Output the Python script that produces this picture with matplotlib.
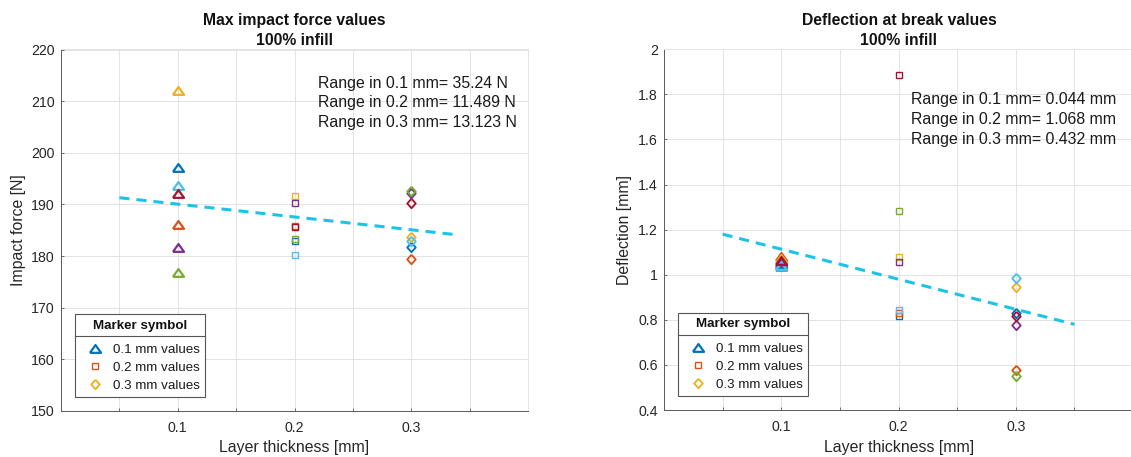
import matplotlib
matplotlib.use('Agg')
import matplotlib.pyplot as plt
from matplotlib.lines import Line2D
from matplotlib.markers import MarkerStyle
from matplotlib.ticker import FixedLocator, FixedFormatter

plt.rcParams['font.family'] = ['Liberation Sans', 'DejaVu Sans']

# ---------------- data ----------------
layer = [0.1, 0.2, 0.3]
sample_colors = ['#0072BD', '#D95319', '#EDB120', '#7E2F8E', '#77AC30', '#4DBEEE', '#A2142F']

force_01 = [197.0, 186.0, 211.9, 181.5, 176.66, 193.5, 192.0]
force_02 = [183.0, 185.8, 191.7, 190.3, 183.3, 180.21, 185.6]
force_03 = [181.8, 179.5, 183.7, 192.2, 192.62, 182.9, 190.2]
force_trend_x = [0.05, 0.34]
force_trend_y = [191.3, 184.1]

defl_01 = [1.045, 1.078, 1.070, 1.050, 1.034, 1.040, 1.062]
defl_02 = [0.819, 0.830, 1.077, 1.057, 1.281, 0.843, 1.887]
defl_03 = [0.832, 0.578, 0.945, 0.776, 0.552, 0.984, 0.815]
defl_trend_x = [0.05, 0.35]
defl_trend_y = [1.18, 0.78]

xtick_values = [0.05, 0.1, 0.15, 0.2, 0.25, 0.3, 0.35]
xtick_labels = ['', '0.1', '', '0.2', '', '0.3', '']
force_yticks = [150, 160, 170, 180, 190, 200, 210, 220]
defl_yticks = [0.4, 0.6, 0.8, 1.0, 1.2, 1.4, 1.6, 1.8, 2.0]

force_titles = ['Max impact force values', '100% infill']
defl_titles = ['Deflection at break values', '100% infill']
force_notes = ['Range in 0.1 mm= 35.24 N', 'Range in 0.2 mm= 11.489 N', 'Range in 0.3 mm= 13.123 N']
defl_notes = ['Range in 0.1 mm= 0.044 mm', 'Range in 0.2 mm= 1.068 mm', 'Range in 0.3 mm= 0.432 mm']
legend_title = 'Marker symbol'
legend_labels = ['0.1 mm values', '0.2 mm values', '0.3 mm values']
legend_colors = ['#0072BD', '#D95319', '#EDB120']

# ---------------- style ----------------
W, H = 1131, 457
DPI = 100
fig = plt.figure(figsize=(W / DPI, H / DPI), dpi=DPI)
fig.patch.set_facecolor('white')

def fx(px):
    return px / W

def fy(py):
    return 1 - py / H

TRI = MarkerStyle([(-1, -0.6), (1, -0.6), (0, 0.8), (-1, -0.6)])
DIA = MarkerStyle([(0, 1), (0.9, 0), (0, -1), (-0.9, 0), (0, 1)])
mk = {
    0: dict(marker=TRI, ms=8.0, mew=1.6),
    1: dict(marker='s', ms=4.5, mew=1.0),
    2: dict(marker=DIA, ms=6.8, mew=1.35),
}

AXC = '#262626'
GRIDC = '#e3e3e3'
TREND = '#1cc3e8'
LEG_FS = 9.6


def style_axes(ax, ylim, yticks, yfmt):
    ax.set_xlim(0, 0.4)
    ax.set_ylim(*ylim)
    ax.xaxis.set_major_locator(FixedLocator(xtick_values))
    ax.xaxis.set_major_formatter(FixedFormatter(xtick_labels))
    ax.yaxis.set_major_locator(FixedLocator(yticks))
    ax.set_yticklabels([yfmt(v) for v in yticks])
    ax.grid(True, color=GRIDC, lw=0.7)
    ax.set_axisbelow(True)
    for s in ['top', 'right']:
        ax.spines[s].set_color(GRIDC)
        ax.spines[s].set_linewidth(0.7)
    for s in ['left', 'bottom']:
        ax.spines[s].set_color('#5a5a5a')
        ax.spines[s].set_linewidth(0.7)
    ax.tick_params(axis='both', direction='in', length=2.4, width=0.6,
                   color='#5a5a5a', labelcolor=AXC, labelsize=10.2)
    ax.tick_params(axis='x', pad=7)
    ax.tick_params(axis='y', pad=4.5)
    ax.tick_params(top=False, right=False)


def draw_points(ax, groups):
    for g, vals in enumerate(groups):
        for c, v in zip(sample_colors, vals):
            ax.plot([layer[g]], [v], ls='none', mfc='none', mec=c, **mk[g])


def add_legend(ax, axw, axh):
    handles = [Line2D([], [], ls='none', mfc='none', mec=legend_colors[i], **mk[i])
               for i in range(3)]
    leg = ax.legend(handles, legend_labels, title=legend_title, loc='lower left',
                    bbox_to_anchor=(14 / axw, 14 / axh), borderaxespad=0,
                    fontsize=LEG_FS,
                    title_fontproperties={'weight': 'bold', 'size': LEG_FS},
                    frameon=True, fancybox=False, framealpha=1, edgecolor='#555555',
                    borderpad=0.38, labelspacing=0.41, handlelength=2.3,
                    handletextpad=0.2)
    leg.get_frame().set_linewidth(0.8)
    # larger gap between the title and the entries
    leg._legend_box.sep = 9.0
    for t in leg.get_texts():
        t.set_color('#1a1a1a')
    leg.get_title().set_color('#111111')
    return leg


# ---------------- left axes ----------------
L_x0, L_x1, L_top, L_bot = 61, 528, 49.5, 411
axL = fig.add_axes([fx(L_x0), fy(L_bot), (L_x1 - L_x0) / W, (L_bot - L_top) / H])
style_axes(axL, (150, 220), force_yticks, lambda v: f'{v:g}')
draw_points(axL, [force_01, force_02, force_03])
axL.plot(force_trend_x, force_trend_y, color=TREND, lw=2.2, ls=(0, (3.3, 2.3)))
for i, txt in enumerate(force_notes):
    axL.text(0.2201, [212.6, 208.77, 204.93][i], txt, fontsize=11.4,
             ha='left', va='baseline', color='#1a1a1a')
legL = add_legend(axL, L_x1 - L_x0, L_bot - L_top)

# ---------------- right axes ----------------
R_x0, R_x1, R_top, R_bot = 664, 1133, 49.3, 410
axR = fig.add_axes([fx(R_x0), fy(R_bot), (R_x1 - R_x0) / W, (R_bot - R_top) / H])
style_axes(axR, (0.4, 2.0), defl_yticks, lambda v: f'{v:g}')
draw_points(axR, [defl_01, defl_02, defl_03])
axR.plot(defl_trend_x, defl_trend_y, color=TREND, lw=2.2, ls=(0, (3.3, 2.3)))
for i, txt in enumerate(defl_notes):
    axR.text(0.2104, [1.757, 1.668, 1.580][i], txt, fontsize=11.4,
             ha='left', va='baseline', color='#1a1a1a')
legR = add_legend(axR, R_x1 - R_x0, R_bot - R_top)

# ---------------- titles / labels ----------------
for cx, titles in [(294, force_titles), (899, defl_titles)]:
    fig.text(fx(cx), fy(25), titles[0], fontsize=11.3, fontweight='bold',
             ha='center', va='baseline', color='#111111')
    fig.text(fx(cx), fy(45), titles[1], fontsize=11.3, fontweight='bold',
             ha='center', va='baseline', color='#111111')

fig.text(fx(294), fy(452), 'Layer thickness [mm]', fontsize=11.4, ha='center',
         va='baseline', color=AXC)
fig.text(fx(899), fy(452), 'Layer thickness [mm]', fontsize=11.4, ha='center',
         va='baseline', color=AXC)
fig.text(fx(19), fy(230), 'Impact force [N]', fontsize=11.4, rotation=90,
         ha='center', va='center', color=AXC)
fig.text(fx(624), fy(230), 'Deflection [mm]', fontsize=11.4, rotation=90,
         ha='center', va='center', color=AXC)

# ---------------- legend title separator ----------------
fig.canvas.draw()
renderer = fig.canvas.get_renderer()
for leg in [legL, legR]:
    fb = leg.get_frame().get_window_extent(renderer)
    tb = leg.get_title().get_window_extent(renderer)
    ymid = 0.5 * (tb.y0 + tb.y1)
    yline = ymid - 10.5
    fig.add_artist(Line2D([fb.x0 / W, fb.x1 / W], [yline / H, yline / H],
                          color='#555555', lw=0.8, transform=fig.transFigure))

fig.savefig('out.png', dpi=DPI, facecolor='white')
